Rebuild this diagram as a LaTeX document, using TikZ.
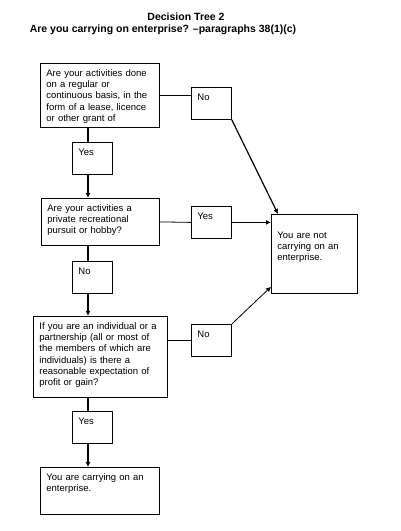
\documentclass[tikz,border=0pt]{standalone}
\usepackage{fontspec}
\setmainfont{Liberation Sans}
\usetikzlibrary{arrows.meta, calc}
\tikzstyle{question} = [rectangle, anchor=north west, align=left, draw=black, fill=white,
                        line width=0.8pt, inner xsep=6pt, inner ysep=4pt, text height=9pt,
                        font=\fontsize{9.5}{11.2}\selectfont]
\tikzstyle{answer} = [question, text width=28pt, text depth=15pt]
\tikzstyle{heading} = [font=\bfseries\fontsize{10.5}{12}\selectfont]
\tikzstyle{arrow} = [-{Latex[length=5pt, width=5pt]}, line width=1.5pt]
\tikzstyle{link} = [line width=0.8pt]

\begin{document}
\begin{tikzpicture}[x=1pt, y=-1pt]
    \useasboundingbox (0,0) rectangle (400,531);

    \node[heading] (title) at (186,17) {Decision Tree 2};
    \node[heading] (subtitle) at (163,30) {Are you carrying on enterprise? –paragraphs 38(1)(c)};

    \node[question, text width=107pt, text depth=47pt] (activity) at (40,63)
        {Are your activities done\\ on a regular or\\ continuous basis, in the\\ form of a lease, licence\\ or other grant of};
    \node[answer] (no1) at (191,87) {No};
    \node[answer] (yes1) at (72,142) {Yes};
    \node[question, text width=106pt, text depth=30pt] (hobby) at (41,198)
        {Are your activities a\\ private recreational\\ pursuit or hobby?};
    \node[answer] (yes2) at (191,206) {Yes};
    \node[question, text width=74pt, text height=20pt, text depth=51pt] (notent) at (271,214)
        {You are not\\ carrying on an\\ enterprise.};
    \node[answer] (no2) at (72,261) {No};
    \node[question, text width=122pt, text depth=64pt] (profit) at (33,316)
        {If you are an individual or a\\ partnership (all or most of\\ the members of which are\\ individuals) is there a\\ reasonable expectation of\\ profit or gain?};
    \node[answer] (no3) at (191,324) {No};
    \node[answer] (yes3) at (72,411) {Yes};
    \node[question, text width=107pt, text depth=30pt] (enterprise) at (40,467)
        {You are carrying on an\\ enterprise.};

    \coordinate (spine) at (88,0);

    \draw[link, line width=1.5pt] (activity.south -| spine) -- (yes1.north -| spine);
    \draw[arrow] (yes1.south -| spine) -- (hobby.north -| spine);
    \draw[link, line width=1.5pt] (hobby.south -| spine) -- (no2.north -| spine);
    \draw[arrow] (no2.south -| spine) -- (profit.north -| spine);
    \draw[link, line width=1.5pt] (profit.south -| spine) -- (yes3.north -| spine);
    \draw[arrow] (yes3.south -| spine) -- (enterprise.north -| spine);

    \draw[link] (activity.east) -- (no1.west |- activity.east);
    \draw[link] (hobby.east) -- (yes2.west);
    \draw[link] (no3.west -| profit.east) -- (no3.west);

    \draw[arrow, line width=1.2pt] (no1.south east) -- ($(notent.north west)+(7,0)$);
    \draw[arrow] (yes2.east) -- (yes2.east -| notent.west);
    \draw[arrow, line width=0.8pt] (no3.north east) -- ($(notent.south west)+(0,-7)$);
\end{tikzpicture}
\end{document}
